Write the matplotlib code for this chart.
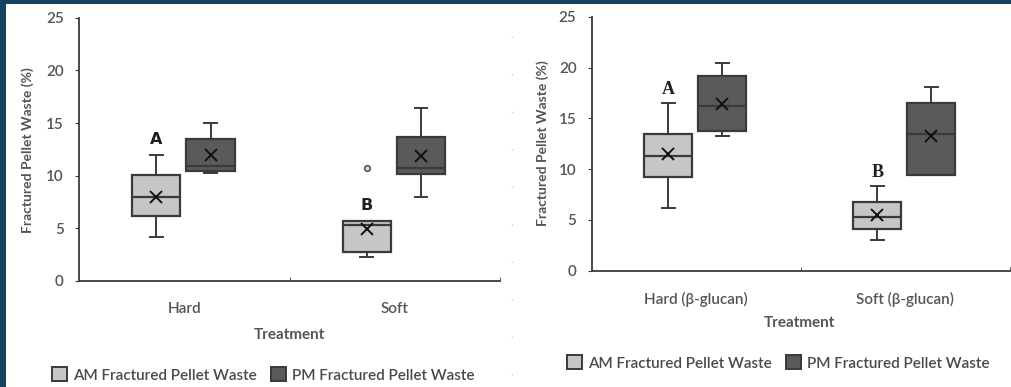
import matplotlib
matplotlib.use("Agg")
import matplotlib.pyplot as plt
from matplotlib.patches import Patch, Rectangle
from matplotlib.lines import Line2D

plt.rcParams["font.family"] = ["Lato", "DejaVu Sans"]

# left panel: plain treatments
plain_labels = ["Hard", "Soft"]
plain_am_whislo = [4.15, 2.3]
plain_am_q1 = [6.15, 2.72]
plain_am_med = [8.0, 5.28]
plain_am_q3 = [10.1, 5.73]
plain_am_whishi = [12.0, 5.73]
plain_am_mean = [8.0, 4.9]
plain_am_fliers = [[], [10.76]]
plain_pm_whislo = [10.25, 8.0]
plain_pm_q1 = [10.45, 10.16]
plain_pm_med = [10.95, 10.76]
plain_pm_q3 = [13.45, 13.7]
plain_pm_whishi = [15.0, 16.46]
plain_pm_mean = [12.0, 11.9]
plain_letters = ["A", "B"]
plain_letter_y = [13.4, 7.2]

# right panel: beta-glucan treatments
glucan_labels = ["Hard (β-glucan)", "Soft (β-glucan)"]
glucan_am_whislo = [6.2, 2.99]
glucan_am_q1 = [9.25, 4.13]
glucan_am_med = [11.29, 5.31]
glucan_am_q3 = [13.42, 6.76]
glucan_am_whishi = [16.47, 8.34]
glucan_am_mean = [11.49, 5.45]
glucan_am_fliers = [[], []]
glucan_pm_whislo = [13.26, 9.42]
glucan_pm_q1 = [13.78, 9.42]
glucan_pm_med = [16.24, 13.45]
glucan_pm_q3 = [19.16, 16.47]
glucan_pm_whishi = [20.4, 18.1]
glucan_pm_mean = [16.4, 13.26]
glucan_letters = ["A", "B"]
glucan_letter_y = [17.85, 9.7]

series_names = ["AM Fractured Pellet Waste", "PM Fractured Pellet Waste"]

AM_COLOR = "#c6c6c6"
PM_COLOR = "#5a5a5a"
EDGE = "#3a3a3a"
TEXT = "#555555"
BORDER = "#15425f"


def stats(whislo, q1, med, q3, whishi, mean, fliers=None):
    out = []
    for i in range(len(med)):
        out.append(dict(whislo=whislo[i], q1=q1[i], med=med[i], q3=q3[i],
                        whishi=whishi[i], mean=mean[i],
                        fliers=fliers[i] if fliers else []))
    return out


def draw_boxes(ax, st, positions, color):
    ax.bxp(st, positions=positions, widths=0.23, capwidths=0.06,
           patch_artist=True, showmeans=True, showfliers=True,
           boxprops=dict(facecolor=color, edgecolor=EDGE, linewidth=1.6),
           medianprops=dict(color=EDGE, linewidth=1.6),
           whiskerprops=dict(color=EDGE, linewidth=1.4),
           capprops=dict(color=EDGE, linewidth=1.4),
           meanprops=dict(marker="x", markeredgecolor="#111111",
                          markersize=8, markeredgewidth=1.4),
           flierprops=dict(marker="o", markersize=4, markerfacecolor="#dddddd",
                           markeredgecolor="#555555", markeredgewidth=1.2))


def panel(ax, labels, am, pm, letters, letter_y, letter_font):
    xs = range(len(labels))
    am_pos = [x - 0.133 for x in xs]
    pm_pos = [x + 0.125 for x in xs]
    draw_boxes(ax, am, am_pos, AM_COLOR)
    draw_boxes(ax, pm, pm_pos, PM_COLOR)
    for p, t, y in zip(am_pos, letters, letter_y):
        ax.text(p, y, t, ha="center", va="center", color="#1e1e1e", **letter_font)

    ax.set_xlim(-0.5, 1.5)
    ax.set_ylim(0, 25)
    ax.set_yticks([0, 5, 10, 15, 20, 25])
    ax.set_xticks(list(xs))
    ax.set_xticklabels(labels, fontweight="semibold")
    ax.set_yticklabels([0, 5, 10, 15, 20, 25], fontweight="semibold")
    ax.set_xticks([0.5, 1.5], minor=True)
    ax.tick_params(axis="x", which="major", length=0, pad=15, labelsize=11,
                   labelcolor=TEXT)
    ax.tick_params(axis="x", which="minor", direction="in", length=3,
                   color=EDGE)
    ax.tick_params(axis="y", direction="out", length=3, pad=8, labelsize=11,
                   labelcolor=TEXT, color=EDGE)
    for s in ("top", "right"):
        ax.spines[s].set_visible(False)
    for s in ("left", "bottom"):
        ax.spines[s].set_color(EDGE)
        ax.spines[s].set_linewidth(1.3)
    ax.set_facecolor("none")

    ax.set_ylabel("Fractured Pellet Waste (%)", fontsize=10, fontweight="bold",
                  color=TEXT)
    ax.set_xlabel("Treatment", fontsize=11, fontweight="bold", color=TEXT)


def main():
    fig = plt.figure(figsize=(10.11, 3.87), dpi=100)
    fig.patch.set_facecolor(BORDER)
    fig.add_artist(Rectangle((6 / 1011, 0), 1, 1 - 4 / 387,
                             transform=fig.transFigure, facecolor="white",
                             edgecolor="none", zorder=-2))
    fig.add_artist(Line2D([512 / 1011] * 2, [0.03, 0.97],
                          transform=fig.transFigure, color="#d2d2d2",
                          linewidth=1.0, linestyle=(0, (1, 26)), zorder=-1))

    ax1 = fig.add_axes([79 / 1011, 1 - 281 / 387, 421 / 1011, 263.3 / 387])
    ax2 = fig.add_axes([591.7 / 1011, 1 - 270.7 / 387, 418 / 1011, 254 / 387])

    panel(ax1, plain_labels,
          stats(plain_am_whislo, plain_am_q1, plain_am_med, plain_am_q3,
                plain_am_whishi, plain_am_mean, plain_am_fliers),
          stats(plain_pm_whislo, plain_pm_q1, plain_pm_med, plain_pm_q3,
                plain_pm_whishi, plain_pm_mean),
          plain_letters, plain_letter_y,
          dict(fontsize=11.5, fontweight="bold", family="DejaVu Sans"))
    panel(ax2, glucan_labels,
          stats(glucan_am_whislo, glucan_am_q1, glucan_am_med, glucan_am_q3,
                glucan_am_whishi, glucan_am_mean, glucan_am_fliers),
          stats(glucan_pm_whislo, glucan_pm_q1, glucan_pm_med, glucan_pm_q3,
                glucan_pm_whishi, glucan_pm_mean),
          glucan_letters, glucan_letter_y,
          dict(fontsize=13, fontweight="bold", family="Liberation Serif"))

    for ax, lx, ly, tx, ty in ((ax1, -0.121, 0.4975, 0.499, -0.205),
                               (ax2, -0.1165, 0.503, 0.498, -0.206)):
        ax.yaxis.set_label_coords(lx, ly)
        ax.yaxis.label.set_va("center")
        ax.xaxis.set_label_coords(tx, ty)
        ax.xaxis.label.set_va("center")

    handles = [Patch(facecolor=AM_COLOR, edgecolor=EDGE, linewidth=1.4),
               Patch(facecolor=PM_COLOR, edgecolor=EDGE, linewidth=1.4)]
    for x0, yc in ((52 / 1011, 1 - 375 / 387), (567 / 1011, 1 - 363 / 387)):
        leg = fig.legend(handles, series_names, loc="center left",
                         bbox_to_anchor=(x0, yc), ncol=2, frameon=False,
                         prop=dict(size=11, weight="semibold"),
                         handlelength=1.0, handleheight=1.0,
                         handletextpad=0.4, columnspacing=0.9,
                         borderpad=0, borderaxespad=0)
        for t in leg.get_texts():
            t.set_color("#4a4a4a")

    fig.savefig("out.png", dpi=100, facecolor=fig.get_facecolor())


if __name__ == "__main__":
    main()
